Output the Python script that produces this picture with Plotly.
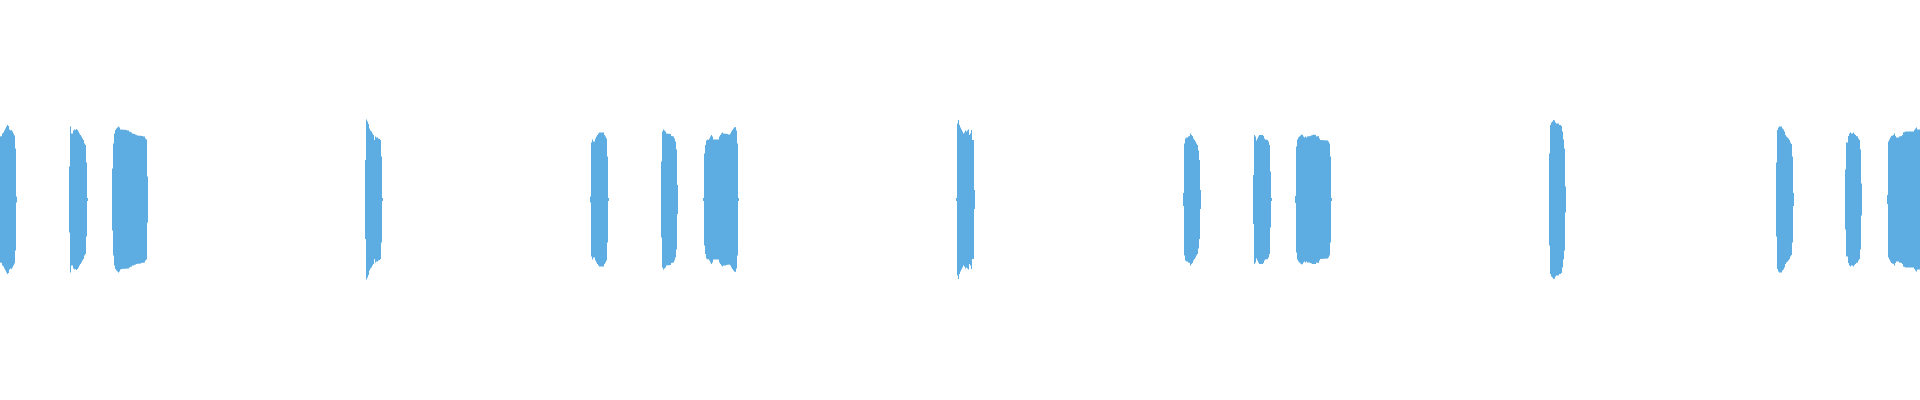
import numpy as np
import plotly.graph_objects as go

# waveform peaks, one value per screen column, in % of full scale
burst_starts = [0, 69, 112, 365, 590, 661, 703, 956, 1183, 1253, 1295, 1549, 1776, 1845, 1887]

burst_peaks = [
    [31.5, 31.8, 33, 33.5, 34.5, 35.5, 36.5, 37.3, 36.8, 35, 34.5, 34.8, 34, 33, 32, 25.5, 1.5],
    [16.5, 36.5, 33, 33, 34.5, 35, 34.8, 35.3, 34.8, 34, 33, 32.3, 31.5, 30.5, 29.8, 28, 27.3, 18.5, 0.8],
    [15.5, 28, 33, 34.8, 35.5, 36, 36.5, 36, 35, 34.8, 34.8, 34.8, 34.8, 34.8, 34.8, 34.5, 34.5,
     34, 33.8, 33.5, 33, 33, 32.8, 32.5, 32.3, 32, 32, 32, 32, 31.8, 31.8, 31.5, 31.5, 30.5, 30, 11.5],
    [19.8, 40, 39, 37.8, 35.5, 34.5, 34, 33, 32.3, 29.8, 31.5, 31, 31, 30.5, 30.3, 29.8, 21.5, 0.8],
    [1.5, 28.5, 30, 29, 29, 30.5, 31.5, 32.3, 33, 33.5, 33.8, 33.8, 33.8, 33.5, 32.3, 31.5, 30.5, 21.5, 0.8],
    [19, 34, 35, 34.5, 34, 33, 32.8, 32.8, 32.8, 32.8, 31.8, 31.5, 31.5, 30.5, 29, 25, 7.3],
    [0.8, 23, 27.3, 29.5, 30, 29.8, 30.5, 31.5, 32.3, 31.5, 30, 29.8, 30, 30, 29.8, 30, 31.5, 32.3,
     33, 33.5, 33, 33, 33, 32.8, 32.8, 32.5, 32.5, 33, 34, 34.8, 35.5, 36, 36.3, 34.5, 28, 0.8],
    [0.8, 38, 39.8, 37.3, 36, 35, 34, 33, 33.5, 34.5, 34, 34.5, 35, 32.3, 33, 34.8, 29.8, 29.8, 4.8],
    [3.3, 28, 30.5, 31, 31, 31.5, 31.8, 33, 32.3, 31.8, 30.5, 29.8, 29, 28, 27.3, 24.5, 19.8, 4.8],
    [12.3, 32.3, 31.5, 29.5, 30.5, 31.5, 32.3, 32.3, 32.3, 32.3, 31.8, 30.5, 30, 29.8, 29.8, 29, 27.3, 14, 0.8],
    [1.8, 26.5, 30, 31, 31.5, 32, 32.5, 32.3, 31.5, 31, 31.5, 31, 31.5, 31.8, 31.5, 31.8, 32, 32.3,
     32.5, 32.3, 32.3, 31.5, 31.8, 31.8, 30.5, 29.8, 29.8, 29.5, 29.5, 29.8, 29.8, 29.8, 29.5, 29,
     28, 21.5, 0.8],
    [23, 37.3, 38.5, 39, 39.8, 39.5, 38.5, 38, 37.8, 38, 37.3, 37.3, 36.8, 34, 30, 25.5, 6.5],
    [18.5, 34.8, 36, 36.5, 36.8, 36.5, 35.5, 35, 34, 32.3, 31.5, 31, 30.5, 29.8, 28.5, 27.8, 21.5, 3.3],
    [15, 28.5, 28.5, 31.8, 33, 33.5, 33, 33, 33.5, 32.8, 32.3, 31.8, 31.5, 30.5, 29.8, 25, 8],
    [2.3, 29, 30, 31, 31.8, 32, 32.3, 33, 31.8, 31, 31, 31, 31.5, 31.5, 31.8, 32.3, 33.5, 33.8, 34,
     34, 34, 34.3, 34, 34, 34, 34, 34, 34.8, 35.5, 36, 35, 34.8, 35],
]

WAVE_COLOR = "#5DADE2"

fig = go.Figure()

for start, peaks in zip(burst_starts, burst_peaks):
    peaks = np.asarray(peaks, dtype=float)
    edges = start + np.arange(len(peaks) + 1)
    # stepped outline: each column is a flat top from its left edge to its right edge
    top_x = np.repeat(edges, 2)[1:-1]
    top_y = np.repeat(peaks, 2)
    xs = np.concatenate([top_x, top_x[::-1]])
    ys = np.concatenate([top_y, -top_y[::-1]])
    fig.add_trace(
        go.Scatter(
            x=xs,
            y=ys,
            mode="lines",
            fill="toself",
            fillcolor=WAVE_COLOR,
            line=dict(width=0, color=WAVE_COLOR),
            hoverinfo="skip",
            showlegend=False,
        )
    )

fig.update_layout(
    width=1920,
    height=400,
    margin=dict(l=0, r=0, t=0, b=0),
    paper_bgcolor="white",
    plot_bgcolor="white",
    xaxis=dict(range=[0, 1920], visible=False, fixedrange=True),
    yaxis=dict(range=[-100.25, 99.75], visible=False, fixedrange=True),
)

# page body has an 8px default margin; drop it so the plot fills the window
fig.write_html(
    "out.html",
    config={"displayModeBar": False},
    post_script="document.body.style.margin='0';document.body.style.overflow='hidden';",
)
